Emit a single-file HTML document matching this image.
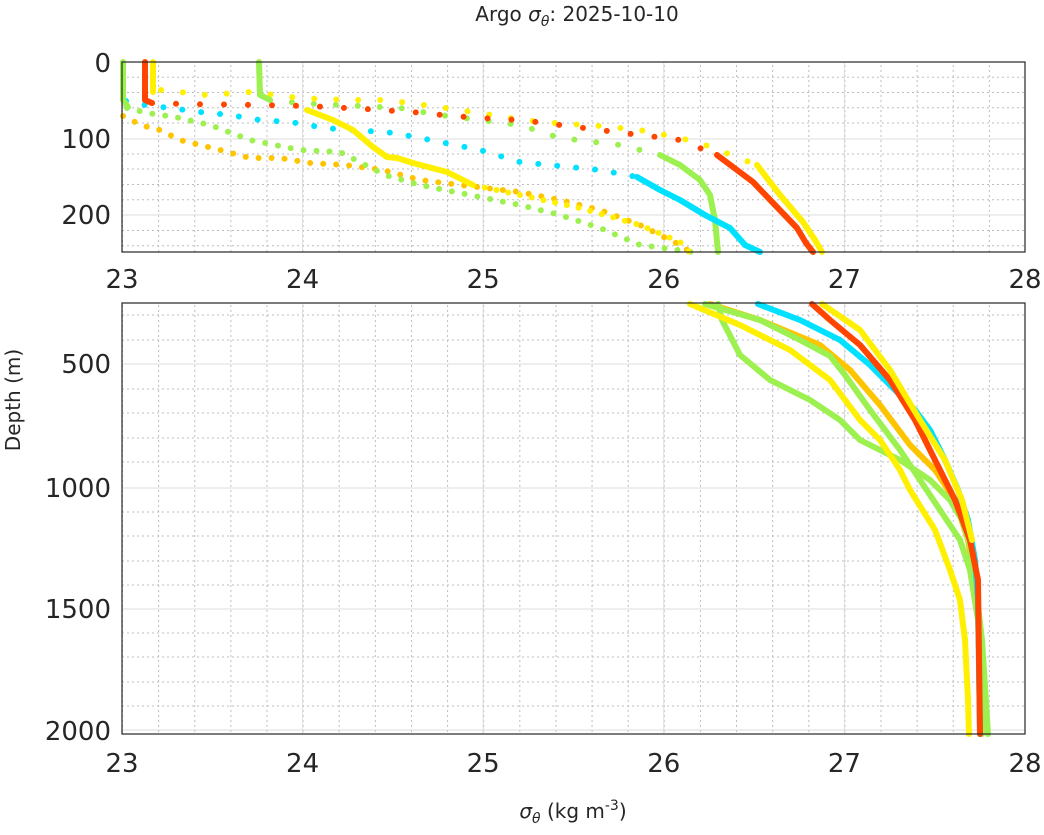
<!DOCTYPE html>
<html><head><meta charset="utf-8"><style>
body{margin:0;background:#fff}
svg{display:block;font-family:"DejaVu Sans","Liberation Sans",sans-serif}
</style></head><body>
<svg width="1044" height="835" viewBox="0 0 1044 835" xmlns="http://www.w3.org/2000/svg">
<defs>
<pattern id="mx" width="36.12" height="1000" patternUnits="userSpaceOnUse" x="122"><line x1="0.5" y1="0" x2="0.5" y2="1000" stroke="#bdbdbd" stroke-dasharray="2,3"/></pattern>
</defs>
<rect x="122" y="62" width="903" height="190" fill="url(#mx)"/>
<rect x="122" y="303" width="903" height="431" fill="url(#mx)"/>
<g stroke="#bdbdbd" stroke-dasharray="2,3">
<line x1="122" x2="1025" y1="77.2" y2="77.2"/><line x1="122" x2="1025" y1="92.5" y2="92.5"/><line x1="122" x2="1025" y1="107.7" y2="107.7"/><line x1="122" x2="1025" y1="123" y2="123"/>
<line x1="122" x2="1025" y1="154" y2="154"/><line x1="122" x2="1025" y1="169" y2="169"/><line x1="122" x2="1025" y1="184.5" y2="184.5"/><line x1="122" x2="1025" y1="199.7" y2="199.7"/><line x1="122" x2="1025" y1="230.5" y2="230.5"/><line x1="122" x2="1025" y1="245.7" y2="245.7"/>
<line x1="122" x2="1025" y1="315" y2="315"/><line x1="122" x2="1025" y1="340" y2="340"/><line x1="122" x2="1025" y1="389" y2="389"/><line x1="122" x2="1025" y1="413" y2="413"/><line x1="122" x2="1025" y1="438" y2="438"/><line x1="122" x2="1025" y1="462" y2="462"/>
<line x1="122" x2="1025" y1="512" y2="512"/><line x1="122" x2="1025" y1="536" y2="536"/><line x1="122" x2="1025" y1="561" y2="561"/><line x1="122" x2="1025" y1="585" y2="585"/>
<line x1="122" x2="1025" y1="633" y2="633"/><line x1="122" x2="1025" y1="657" y2="657"/><line x1="122" x2="1025" y1="682" y2="682"/><line x1="122" x2="1025" y1="706" y2="706"/>
</g>
<g stroke="#dcdcdc">
<line x1="302.6" x2="302.6" y1="62" y2="252"/><line x1="483.2" x2="483.2" y1="62" y2="252"/><line x1="663.8" x2="663.8" y1="62" y2="252"/><line x1="844.4" x2="844.4" y1="62" y2="252"/>
<line x1="122" x2="1025" y1="139" y2="139"/><line x1="122" x2="1025" y1="215" y2="215"/>
<line x1="302.6" x2="302.6" y1="303" y2="734"/><line x1="483.2" x2="483.2" y1="303" y2="734"/><line x1="663.8" x2="663.8" y1="303" y2="734"/><line x1="844.4" x2="844.4" y1="303" y2="734"/>
<line x1="122" x2="1025" y1="364" y2="364"/><line x1="122" x2="1025" y1="488" y2="488"/><line x1="122" x2="1025" y1="609" y2="609"/><line x1="122" x2="1025" y1="730" y2="730"/>
</g>
<!-- top series dots -->
<g stroke-width="6" stroke-linecap="round" fill="none">
<polyline stroke="#ffc400" stroke-dasharray="0,13" points="123,116 135,122 150,128 160,130 180,140 200,145 220,150 250,158 280,158 310,163 345,165 383,170 420,180 460,185 520,192 560,200 600,210 640,225 680,245 692,253"/>
<polyline stroke="#9cf050" stroke-dasharray="0,13" points="127,108 147,113 175,117 210,125 250,140 300,150 340,152 385,175 420,185 470,195 520,205 560,215 600,228 640,245 700,253"/>
<polyline stroke="#00e1ff" stroke-dasharray="0,19" points="126,101 145,105 170,108 200,112 230,115 260,120 290,122 325,128 395,133 430,140 480,150 520,162 550,165 600,170 637,177"/>
<polyline stroke="#9cf050" stroke-dasharray="0,22" points="270,100 300,103 360,106 400,108 440,115 480,120 520,125 560,138 620,145 660,155"/>
<polyline stroke="#ffef00" stroke-dasharray="0,22" points="161,90 206,95 250,92 300,98 350,100 383,100 410,103 460,110 510,118 540,122 600,126 640,130 680,138 700,143 757,165"/>
<polyline stroke="#ff4500" stroke-dasharray="0,24" points="152,103 183,104 259,105 308,106 365,109 412,112 442,115 480,118 520,120 560,125 600,130 640,135 680,140 717,155"/>
<polyline stroke="#ffef00" stroke-dasharray="0,12" points="473,185 520,195 580,208 640,225 680,242 690,253"/>
</g>
<g fill="none" stroke-width="6" stroke-linecap="round" stroke-linejoin="round">
<polyline stroke="#ff4500" points="145,62 145,100 152,103"/>
<polyline stroke="#ffef00" points="153,62 153,92"/>
<polyline stroke="#9cf050" points="123,62 123,100 128,107"/>
<polyline stroke="#9cf050" points="259,62 260,95 270,100"/>
<polyline stroke="#ff4500" points="717,155 753,182 775,205 797,228 806,243 813,252"/>
<polyline stroke="#ffef00" points="757,165 780,195 803,222 815,240 822,252"/>
<polyline stroke="#9cf050" points="660,155 680,165 700,180 710,195 715,220 718,252"/>
<polyline stroke="#ffef00" points="307,110 333,120 353,130 373,147 387,157 397,158 413,163 447,172 473,185"/>
<polyline stroke="#00e1ff" points="637,177 660,190 680,200 705,215 730,228 745,245 760,252"/>
</g>
<!-- bottom series -->
<g fill="none" stroke-width="6" stroke-linecap="round" stroke-linejoin="round">
<polyline stroke="#ffc400" points="710,304 760,320 820,345 850,370 880,405 910,445 935,470 955,500 968,540 975,580"/>
<polyline stroke="#9cf050" points="718,304 722,320 740,355 770,380 810,400 840,420 860,440 900,460 930,480 950,500 962,520 970,545 975,580 982,640 988,734"/>
<polyline stroke="#ffef00" points="690,304 740,325 790,350 830,380 860,420 880,440 900,470 910,490 935,530 950,570 960,600 965,640 968,700 969,734"/>
<polyline stroke="#9cf050" points="705,304 760,320 800,340 830,356 845,375 870,410 900,450 920,480 940,510 960,540 970,570 978,620 982,734"/>
<polyline stroke="#00e1ff" points="758,304 800,320 840,340 870,365 895,390 915,410 930,430 945,460 958,490 968,520 975,560 978,600 980,734"/>
<polyline stroke="#ff4500" points="812,304 830,320 860,345 890,380 915,420 935,460 955,500 970,540 978,580 980,734"/>
<polyline stroke="#ffef00" points="822,304 860,330 890,370 920,420 945,460 962,500 972,540"/>
</g>
<!-- axes -->
<g stroke="#262626" fill="none" stroke-width="1.2">
<rect x="122" y="62" width="903" height="190"/>
<rect x="122" y="303" width="903" height="431"/>
</g>
<g fill="#262626" font-size="26" text-anchor="middle">
<text x="122" y="288">23</text><text x="302.6" y="288">24</text><text x="483.2" y="288">25</text><text x="663.8" y="288">26</text><text x="844.4" y="288">27</text><text x="1025" y="288">28</text>
<text x="122" y="772">23</text><text x="302.6" y="772">24</text><text x="483.2" y="772">25</text><text x="663.8" y="772">26</text><text x="844.4" y="772">27</text><text x="1025" y="772">28</text>
</g>
<g fill="#262626" font-size="26" text-anchor="end">
<text x="111" y="72">0</text><text x="111" y="148">100</text><text x="111" y="224">200</text>
<text x="111" y="373">500</text><text x="111" y="497">1000</text><text x="111" y="618">1500</text><text x="111" y="740">2000</text>
</g>
<text x="577" y="21" font-size="20" fill="#262626" text-anchor="middle">Argo <tspan font-style="italic">σ</tspan><tspan font-style="italic" font-size="14" dy="5">θ</tspan><tspan dy="-5">: 2025-10-10</tspan></text>
<text x="573" y="818" font-size="20" fill="#262626" text-anchor="middle"><tspan font-style="italic">σ</tspan><tspan font-style="italic" font-size="14" dy="5">θ</tspan><tspan dy="-5"> (kg m</tspan><tspan font-size="14" dy="-8">-3</tspan><tspan dy="8">)</tspan></text>
<text transform="translate(20,400) rotate(-90)" font-size="20" fill="#262626" text-anchor="middle">Depth (m)</text>
</svg>
</body></html>
